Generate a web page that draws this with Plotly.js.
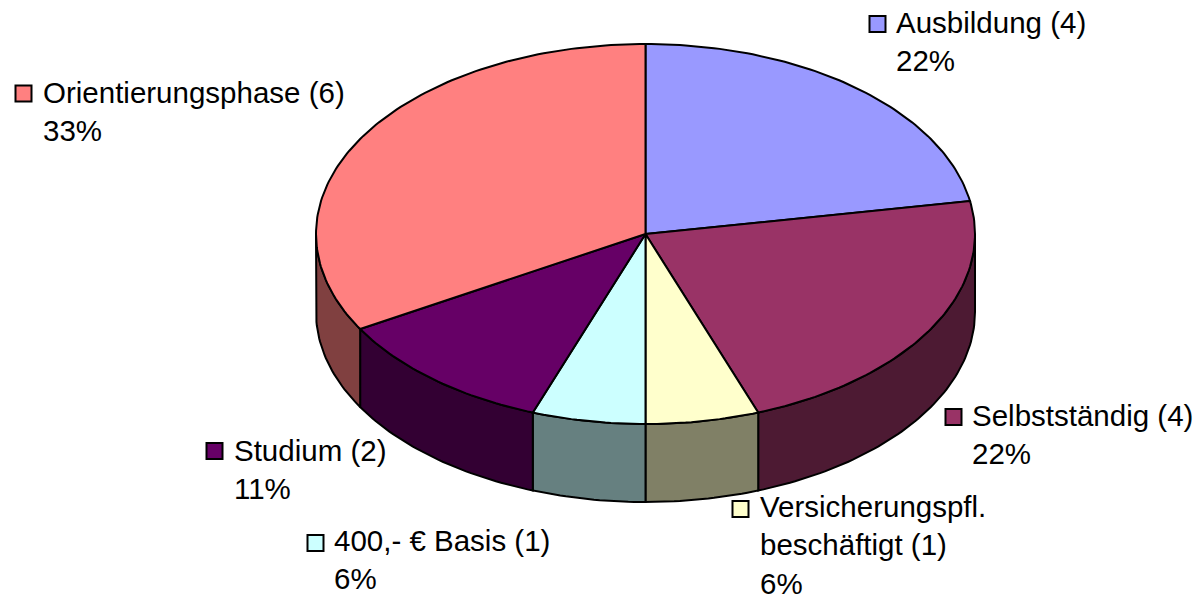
<!DOCTYPE html>
<html>
<head>
<meta charset="utf-8">
<script src="https://cdn.plot.ly/plotly-3.0.1.min.js"></script>
<style>html,body{margin:0;padding:0;background:#fff;overflow:hidden}#chart{width:1199px;height:596px}</style>
</head>
<body>
<div id="chart"></div>
<script>
// Data
const categories = ["Ausbildung", "Selbstständig", "Versicherungspfl.<br>beschäftigt", "400,- € Basis", "Studium", "Orientierungsphase"];
const counts = [4, 4, 1, 1, 2, 6];
const percentLabels = ["22%", "22%", "6%", "6%", "11%", "33%"];

// Styles
const topColors = ["#9999FF", "#993366", "#FFFFCC", "#CCFFFF", "#660066", "#FF8080"];
const sideColors = ["#4D4D80", "#4D1A33", "#808066", "#668080", "#330033", "#804040"];

// Layout of the label boxes (pixel space of the hidden axes)
const keyX = [877.5, 953.5, 740.5, 315.5, 214.5, 23.5];
const keyY = [24, 417, 509, 543, 451, 93.5];
const textX = [896, 972, 760, 334, 234, 43];
const textY = [41, 434.5, 545, 559.5, 469, 111.5];

// Pie geometry
const cx = 645.5, cy = 234, rx = 329.5, ry = 190, depth = 78;
const W = 1199, H = 596;

function arc(t0, t1, dy) {
  const xs = [], ys = [];
  const n = Math.max(2, Math.ceil(Math.abs(t1 - t0)));
  for (let i = 0; i <= n; i++) {
    const t = (t0 + (t1 - t0) * i / n) * Math.PI / 180;
    xs.push(cx + rx * Math.sin(t));
    ys.push(cy - ry * Math.cos(t) + dy);
  }
  return {xs, ys};
}

const total = counts.reduce((a, b) => a + b, 0);
const sides = [], tops = [];
let acc = 0;
counts.forEach((v, i) => {
  const t0 = acc / total * 360;
  acc += v;
  const t1 = acc / total * 360;
  const a = arc(t0, t1, 0);
  tops.push({
    type: "scatter", mode: "lines", fill: "toself", fillcolor: topColors[i],
    x: [cx, ...a.xs, cx], y: [cy, ...a.ys, cy],
    line: {color: "#000", width: 2}, hoverinfo: "skip", showlegend: false
  });
  const s0 = Math.max(t0, 90), s1 = Math.min(t1, 270);
  if (s1 > s0) {
    const up = arc(s0, s1, 0), lo = arc(s1, s0, depth);
    sides.push({
      type: "scatter", mode: "lines", fill: "toself", fillcolor: sideColors[i],
      x: [...up.xs, ...lo.xs, up.xs[0]], y: [...up.ys, ...lo.ys, up.ys[0]],
      line: {color: "#000", width: 2}, hoverinfo: "skip", showlegend: false
    });
  }
});

const keys = {
  type: "scatter", mode: "markers", x: keyX, y: keyY,
  marker: {symbol: "square", size: 16, color: topColors, line: {color: "#000", width: 2}},
  hoverinfo: "skip", showlegend: false
};

const annotations = categories.map((c, i) => ({
  x: textX[i], y: textY[i], xref: "x", yref: "y",
  xanchor: "left", yanchor: "middle", align: "left", showarrow: false,
  borderpad: 0, xshift: -1,
  text: c + " (" + counts[i] + ")<br>" + percentLabels[i],
  font: {family: "Liberation Sans, Arial, sans-serif", size: 29.5, color: "#000"}
}));

const hidden = {visible: false, fixedrange: true, showgrid: false, zeroline: false};
Plotly.newPlot("chart", [...sides, ...tops, keys], {
  width: W, height: H,
  margin: {l: 0, r: 0, t: 0, b: 0},
  paper_bgcolor: "#fff", plot_bgcolor: "#fff",
  xaxis: {...hidden, range: [0, W]},
  yaxis: {...hidden, range: [H, 0]},
  annotations: annotations,
  showlegend: false
}, {displayModeBar: false, staticPlot: true});
</script>
</body>
</html>
